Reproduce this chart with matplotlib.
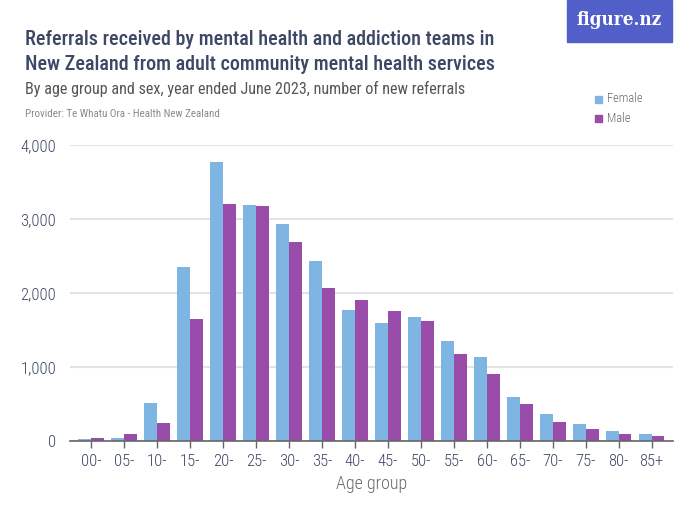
import matplotlib
matplotlib.use("Agg")
import matplotlib.pyplot as plt
from matplotlib.patches import Rectangle
import numpy as np

plt.rcParams['font.family'] = ["Roboto Condensed", 'DejaVu Sans']

categories = ["00-", "05-", "10-", "15-", "20-", "25-", "30-", "35-", "40-",
              "45-", "50-", "55-", "60-", "65-", "70-", "75-", "80-", "85+"]
female = [27, 45, 520, 2345, 3771, 3193, 2937, 2426, 1767,
          1596, 1677, 1350, 1130, 601, 363, 224, 135, 99]
male = [36, 99, 238, 1646, 3202, 3179, 2695, 2063, 1901,
        1753, 1628, 1170, 901, 498, 256, 166, 99, 63]
yticks = [0, 1000, 2000, 3000, 4000]
ytick_labels = ["0", "1,000", "2,000", "3,000", "4,000"]

C_F = "#7eb5e3"
C_M = "#994ca9"
TXT = "#3d4866"
GREY = "#6b6b6b"

fig = plt.figure(figsize=(7, 5.25), dpi=100)
ax = fig.add_axes([0.1, 1 - 441/525, 0.961 - 0.1, (441 - 145)/525])

x = np.arange(len(categories))
w = 0.39
ax.bar(x - w/2, female, width=w, color=C_F, zorder=3)
ax.bar(x + w/2, male, width=w, color=C_M, zorder=3)

ax.set_xlim(-0.64, len(categories) - 1 + 0.64)
ax.set_ylim(0, 4000)
ax.set_yticks(yticks)
ax.set_yticklabels(ytick_labels)
ax.set_xticks(x)
ax.set_xticklabels(categories)
ax.grid(axis='y', color="#e3e3e3", linewidth=1.5, zorder=0)
for s in ["top", "right", "left"]:
    ax.spines[s].set_visible(False)
ax.spines["bottom"].set_color("#666666")
ax.spines["bottom"].set_linewidth(1.2)
ax.spines["bottom"].set_zorder(4)
ax.tick_params(axis='y', length=0, pad=10, labelsize=12, labelcolor=TXT)
ax.tick_params(axis='x', length=5, width=1, color="#666666", pad=4,
               labelsize=12, labelcolor=TXT)
for lab in ax.get_yticklabels() + ax.get_xticklabels():
    lab.set_fontweight('light')
ax.set_xlabel("Age group", fontsize=13, color=GREY, labelpad=5, fontweight='light')

# Titles
fig.text(25/700, 1 - 45/525, "Referrals received by mental health and addiction teams in",
         fontsize=14.5, color=TXT, fontweight='medium', va='baseline')
fig.text(25/700, 1 - 70/525, "New Zealand from adult community mental health services",
         fontsize=14.5, color=TXT, fontweight='medium', va='baseline')
fig.text(25/700, 1 - 94/525, "By age group and sex, year ended June 2023, number of new referrals",
         fontsize=11.6, color="#555555", va='baseline')
fig.text(25/700, 1 - 117/525, "Provider: Te Whatu Ora - Health New Zealand",
         fontsize=7.9, color="#8a8a8a", va='baseline')

# Logo
fig.patches.append(Rectangle((567/700, 1 - 42/525), 105/700, 42/525,
                             transform=fig.transFigure, color="#525fc9", zorder=0))
fig.text(619/700, 1 - 20/525, "figure.nz", fontsize=13.5, color="white",
         family="DejaVu Serif", fontstretch='condensed', fontweight='bold',
         ha='center', va='center')

# Legend
for i, (lab, c) in enumerate([("Female", C_F), ("Male", C_M)]):
    yc = 1 - (99 + i * 19)/525
    fig.patches.append(Rectangle((595/700, yc - 3.5/525), 7/700, 7/525,
                                 transform=fig.transFigure, color=c))
    fig.text(607/700, yc, lab, fontsize=9, color=GREY, va='center', fontweight='light')

fig.savefig("out.png", dpi=100)
